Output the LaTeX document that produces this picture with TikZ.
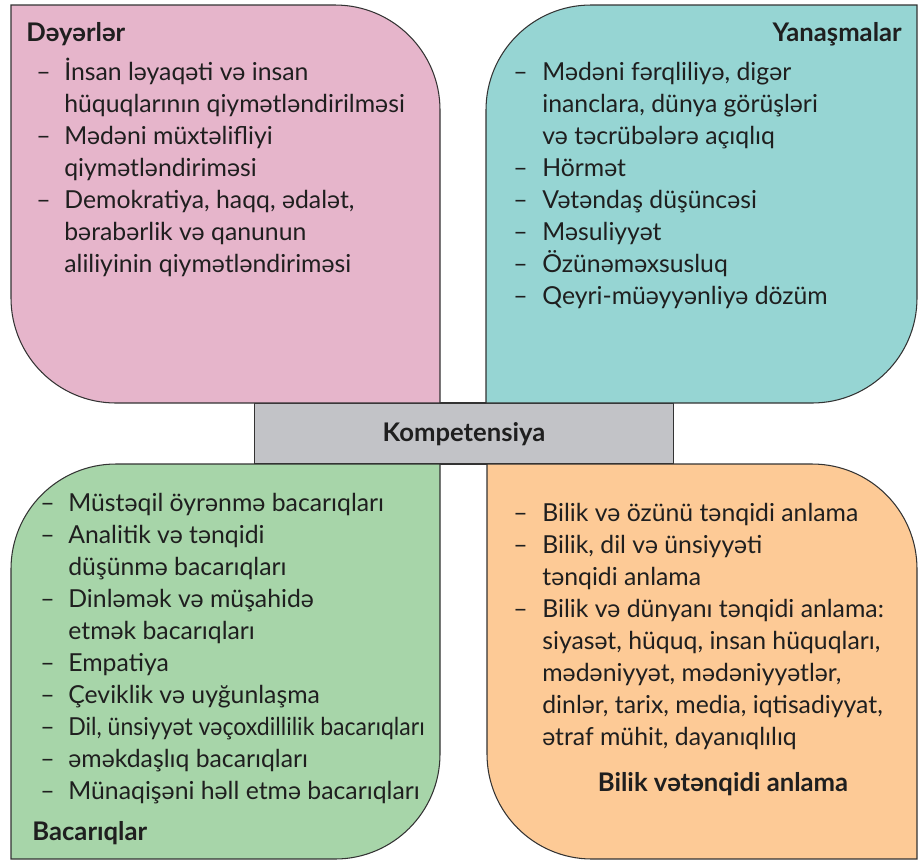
\documentclass[tikz,border=0pt]{standalone}
\usepackage{fontspec}
\usepackage{graphicx}
\setmainfont{Lato}
\usetikzlibrary{positioning}

\tikzset{
  item/.style={anchor=base west, inner sep=0pt, font=\fontsize{14.1}{16}\selectfont},
  dashmark/.style={anchor=base west, inner sep=0pt, font=\fontsize{14.1}{16}\selectfont},
  head/.style={inner sep=0pt, font=\fontsize{14.6}{16}\selectfont\bfseries},
  petal/.style={draw=black!80, line width=0.6pt}
}

\begin{document}
\begin{tikzpicture}[x=0.02cm, y=-0.02cm, every node/.style={text=black!88}]
      \definecolor{pinkbg}{HTML}{E6B5CB} \definecolor{tealbg}{HTML}{96D5D3}
      \definecolor{greenbg}{HTML}{A7D5A9} \definecolor{orangebg}{HTML}{FDCA96}
      \definecolor{graybg}{HTML}{C2C3C7}
      \useasboundingbox (0,0) rectangle (919,860);

      % centre bar
      \node[draw=black!80, line width=0.6pt, fill=graybg, minimum width=8.4cm, minimum height=1.22cm,
            inner sep=0pt] (komp) at (464,433.5) {};
      \node[head, anchor=base] (kompt) at (464,441) {Kompetensiya};

      % four petals
      \draw[petal, fill=pinkbg] (11,5) -- (335,5) .. controls (393,5) and (440,52) .. (440,110)
            -- (440,403) -- (116,403) .. controls (58,403) and (11,356) .. (11,298) -- cycle;
      \draw[petal, fill=tealbg] (917,5) -- (917,298) .. controls (917,356) and (870,403) .. (812,403)
            -- (486,403) -- (486,110) .. controls (486,52) and (533,5) .. (591,5) -- cycle;
      \draw[petal, fill=greenbg] (440,464) -- (440,754) .. controls (440,812) and (393,859) .. (335,859)
            -- (11,859) -- (11,569) .. controls (11,511) and (58,464) .. (116,464) -- cycle;
      \draw[petal, fill=orangebg] (487,464) -- (812,464) .. controls (870,464) and (917,511) .. (917,569)
            -- (917,859) -- (592,859) .. controls (534,859) and (487,812) .. (487,754) -- cycle;

      % Dəyərlər
      \node[head, anchor=base west] (dtitle) at (26,41) {Dəyərlər};
      \foreach \y in {80,144,208} \node[dashmark] (dd\y) at (36,\y) {–};
      \foreach \y/\t in {80/{İnsan ləyaqəti və insan}, 112/{hüquqlarının qiymətləndirilməsi},
                         144/{Mədəni müxtəlifliyi}, 176/{qiymətləndiriməsi},
                         208/{Demokratiya, haqq, ədalət,}, 240/{bərabərlik və qanunun},
                         272/{aliliyinin qiymətləndiriməsi}}
        \node[item] (d\y) at (64,\y) {\t};

      % Yanaşmalar
      \node[head, anchor=base east] (ytitle) at (902,41) {Yanaşmalar};
      \foreach \y in {80,176,208,240,272,304} \node[dashmark] (yd\y) at (513,\y) {–};
      \foreach \y/\t in {80/{Mədəni fərqliliyə, digər}, 112/{inanclara, dünya görüşləri},
                         144/{və təcrübələrə açıqlıq}, 176/{Hörmət}, 208/{Vətəndaş düşüncəsi},
                         240/{Məsuliyyət}, 272/{Özünəməxsusluq}, 304/{Qeyri-müəyyənliyə dözüm}}
        \node[item] (y\y) at (542,\y) {\t};

      % Bacarıqlar
      \foreach \y in {511,543,607,671,703,735,767,799} \node[dashmark] (bd\y) at (40,\y) {–};
      \foreach \y/\t in {511/{Müstəqil öyrənmə bacarıqları}, 543/{Analitik və tənqidi},
                         575/{düşünmə bacarıqları}, 607/{Dinləmək və müşahidə},
                         639/{etmək bacarıqları}, 671/{Empatiya}, 703/{Çeviklik və uyğunlaşma},
                         735/{\scalebox{0.93}[1]{Dil, ünsiyyət vəçoxdillilik bacarıqları}},
                         767/{əməkdaşlıq bacarıqları}, 799/{Münaqişəni həll etmə bacarıqları}}
        \node[item] (b\y) at (68,\y) {\t};
      \node[head, anchor=base west] (btitle) at (32,840) {Bacarıqlar};

      % Bilik
      \foreach \y in {521,553,617} \node[dashmark] (od\y) at (513,\y) {–};
      \foreach \y/\t in {521/{Bilik və özünü tənqidi anlama}, 553/{Bilik, dil və ünsiyyəti},
                         585/{tənqidi anlama}, 617/{Bilik və dünyanı tənqidi anlama:},
                         649/{siyasət, hüquq, insan hüquqları,}, 681/{mədəniyyət, mədəniyyətlər,},
                         713/{dinlər, tarix, media, iqtisadiyyat,}, 745/{ətraf mühit, dayanıqlılıq}}
        \node[item] (o\y) at (542,\y) {\t};
      \node[head, anchor=base] (otitle) at (723,791) {Bilik vətənqidi anlama};
    \end{tikzpicture}
\end{document}
